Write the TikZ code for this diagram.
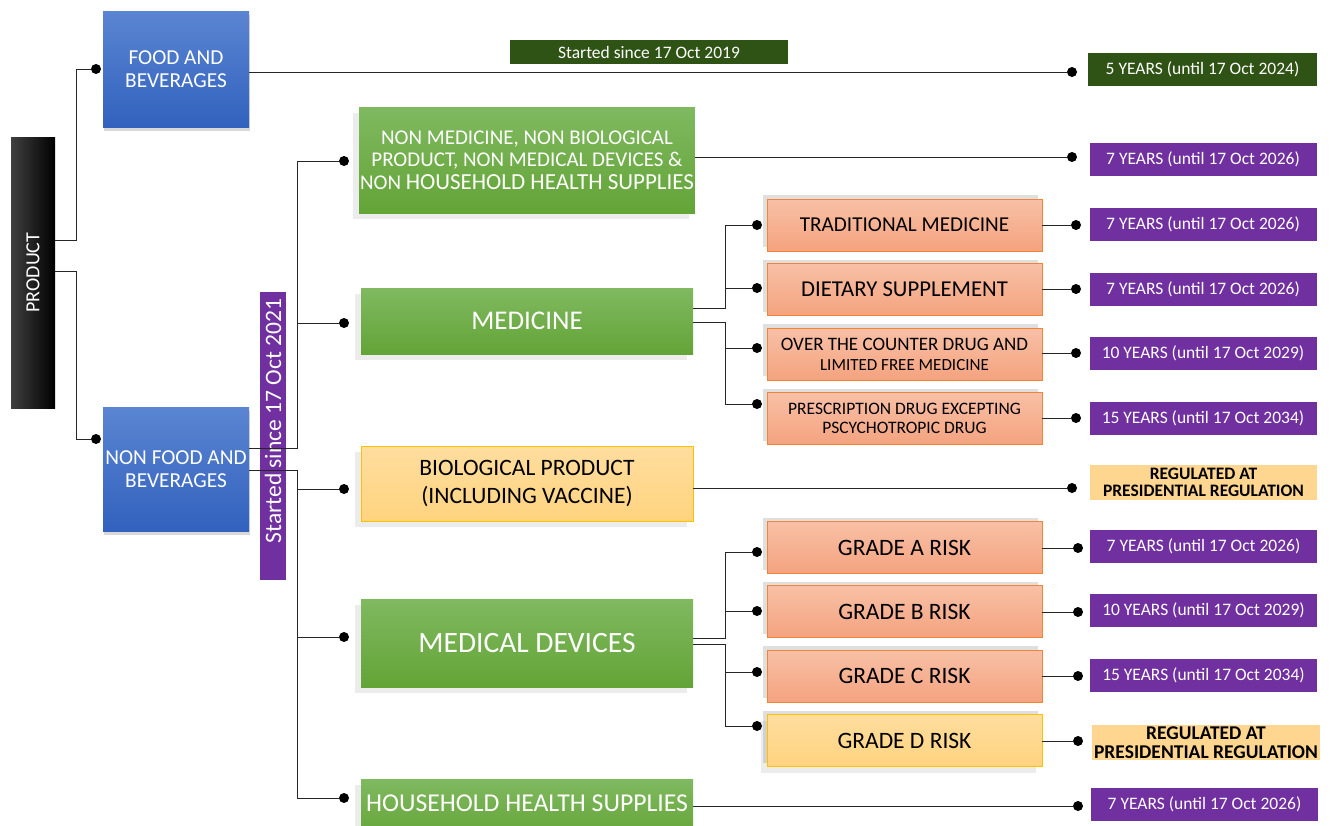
\documentclass[tikz,border=0pt]{standalone}
\usepackage{fontspec}
\setmainfont{Carlito}
\usetikzlibrary{shadows}
\definecolor{blueA}{HTML}{5B85D2}
\definecolor{blueB}{HTML}{3262BE}
\definecolor{greenA}{HTML}{80B960}
\definecolor{greenB}{HTML}{63A437}
\definecolor{orangeA}{HTML}{F8C0A6}
\definecolor{orangeB}{HTML}{F4A37F}
\definecolor{orangeline}{HTML}{F38336}
\definecolor{yellowA}{HTML}{FFDD9E}
\definecolor{yellowB}{HTML}{FFD480}
\definecolor{yellowline}{HTML}{FFC000}
\definecolor{purp}{HTML}{7030A0}
\definecolor{darkgreen}{HTML}{2F5315}
\definecolor{paleyellow}{HTML}{FFD690}
\newcommand{\fsz}[2]{\fontsize{#1}{#2}\selectfont}

\begin{document}
\begin{tikzpicture}[x=1pt,y=-1pt,
  dot/.style={circle,fill=black,inner sep=0pt,minimum size=10pt},
  conn/.style={line width=1pt,black!85},
  prodbox/.style={rectangle,left color=black!75,right color=black,text=white,rotate=90,minimum width=271,minimum height=44,font=\fsz{20}{22}},
  bluebox/.style={rectangle,top color=blueA,bottom color=blueB,text=white,align=center,inner sep=1pt,minimum width=146,font=\fsz{21.3}{23},drop shadow={opacity=0.3,shadow xshift=1pt,shadow yshift=-4pt}},
  greenbox/.style={rectangle,top color=greenA,bottom color=greenB,text=white,align=center,inner sep=1pt,minimum width=332,drop shadow={opacity=0.15,shadow xshift=-6pt,shadow yshift=-6pt}},
  yellowbox/.style={rectangle,top color=yellowA,bottom color=yellowB,draw=yellowline,line width=0.8pt,align=center,inner sep=1pt,drop shadow={opacity=0.15,shadow xshift=-6pt,shadow yshift=-6pt}},
  orangebox/.style={rectangle,top color=orangeA,bottom color=orangeB,draw=orangeline,line width=0.8pt,align=center,inner sep=1pt,minimum width=275,minimum height=52,drop shadow={opacity=0.25,shadow xshift=-4pt,shadow yshift=4pt}},
  yearlabel/.style={rectangle,fill=purp,text=white,minimum width=227,minimum height=33,font=\fsz{17.5}{19}},
  reglabel/.style={rectangle,fill=paleyellow,align=center,inner sep=1pt,minimum width=227,minimum height=35}
]
\clip (0,0) rectangle (1330,825);

% main boxes
\node[prodbox] (prod) at (33,272.5) {PRODUCT};
\node[bluebox,minimum height=116] (food) at (176,69) {FOOD AND\\BEVERAGES};
\node[bluebox,minimum height=124] (nonfood) at (176,469) {NON FOOD AND\\BEVERAGES};
\node[rectangle,fill=darkgreen,text=white,minimum width=278,minimum height=24,font=\fsz{17.5}{19}] (start19) at (649,52) {Started since 17 Oct 2019};
\node[rectangle,fill=purp,text=white,rotate=90,minimum width=288,minimum height=26,inner sep=0pt,font=\fsz{23.5}{24}] (start21) at (273,436) {\hspace*{30pt}Started since 17 Oct 2021};

\node[greenbox,minimum height=106,font=\fsz{21}{22.5}] (nonmed) at (527,160) {NON MEDICINE, NON BIOLOGICAL\\PRODUCT, NON MEDICAL DEVICES \&\\NON {\fsz{23}{22.5}HOUSEHOLD HEALTH SUPPLIES}};
\node[greenbox,minimum height=66,font=\fsz{27}{30}] (medicine) at (527,321) {MEDICINE};
\node[yellowbox,minimum width=332,minimum height=75,font=\fsz{23.5}{28}] (bio) at (527,483.5) {BIOLOGICAL PRODUCT\\(INCLUDING VACCINE)};
\node[greenbox,minimum height=88,font=\fsz{29.5}{32}] (meddev) at (527,643) {MEDICAL DEVICES};
\node[greenbox,minimum height=60,font=\fsz{25.7}{28},text depth=12pt] (household) at (527,809) {HOUSEHOLD HEALTH SUPPLIES};

\node[orangebox,font=\fsz{21.2}{22}] (trad) at (904.5,225) {TRADITIONAL MEDICINE};
\node[orangebox,font=\fsz{22.7}{25}] (diet) at (904.5,289.5) {DIETARY SUPPLEMENT};
\node[orangebox,font=\fsz{19}{20}] (otc) at (904.5,354) {OVER THE COUNTER DRUG AND\\{\fsz{17}{20}LIMITED FREE MEDICINE}};
\node[orangebox,font=\fsz{17.5}{19.5}] (presc) at (904.5,418.5) {PRESCRIPTION DRUG EXCEPTING\\PSCYCHOTROPIC DRUG};
\node[orangebox,font=\fsz{23.5}{24}] (gra) at (904.5,547.5) {GRADE A RISK};
\node[orangebox,font=\fsz{23.5}{24}] (grb) at (904.5,611.5) {GRADE B RISK};
\node[orangebox,font=\fsz{23.5}{24}] (grc) at (904.5,676) {GRADE C RISK};
\node[yellowbox,minimum width=275,minimum height=52,font=\fsz{23.5}{24},drop shadow={opacity=0.25,shadow xshift=-4pt,shadow yshift=4pt}] (grd) at (904.5,740.5) {GRADE D RISK};

% labels on the right
\node[rectangle,fill=darkgreen,text=white,minimum width=229,minimum height=33,font=\fsz{17.5}{19}] (lfood) at (1202.5,69.5) {5 YEARS (until 17 Oct 2024)};
\node[yearlabel] (lnonmed) at (1203,159.5) {7 YEARS (until 17 Oct 2026)};
\node[yearlabel] (ltrad) at (1203,224.5) {7 YEARS (until 17 Oct 2026)};
\node[yearlabel] (ldiet) at (1203,289) {7 YEARS (until 17 Oct 2026)};
\node[yearlabel] (lotc) at (1203,353.5) {10 YEARS (until 17 Oct 2029)};
\node[yearlabel] (lpresc) at (1203,418.5) {15 YEARS (until 17 Oct 2034)};
\node[reglabel,font=\bfseries\fsz{17.5}{17}] (lbio) at (1203.5,482.5) {REGULATED AT\\PRESIDENTIAL REGULATION};
\node[yearlabel] (lgra) at (1203.5,546.5) {7 YEARS (until 17 Oct 2026)};
\node[yearlabel] (lgrb) at (1203.5,610.5) {10 YEARS (until 17 Oct 2029)};
\node[yearlabel] (lgrc) at (1203.5,675) {15 YEARS (until 17 Oct 2034)};
\node[reglabel,minimum width=228,inner sep=0pt,font=\bfseries\fsz{19.5}{19}] (lgrd) at (1206,742.5) {REGULATED AT\\PRESIDENTIAL REGULATION};
\node[yearlabel] (lhouse) at (1204.5,804) {7 YEARS (until 17 Oct 2026)};

% dots
\node[dot] (dprodf) at (96,69) {};
\node[dot] (dprodn) at (96,439) {};
\node[dot] (dnonmed) at (344,161) {};
\node[dot] (dmed) at (344,323) {};
\node[dot] (dbio) at (344,489) {};
\node[dot] (dmeddev) at (344,637) {};
\node[dot] (dhouse) at (344,798) {};
\node[dot] (dtrad) at (757,225) {};
\node[dot] (ddiet) at (757,288) {};
\node[dot] (dotc) at (757,348) {};
\node[dot] (dpresc) at (757,404) {};
\node[dot] (dgra) at (757,552) {};
\node[dot] (dgrb) at (757,611) {};
\node[dot] (dgrc) at (757,672) {};
\node[dot] (dgrd) at (757,726) {};
\node[dot] (rfood) at (1072,72) {};
\node[dot] (rnonmed) at (1072,157) {};
\node[dot] (rtrad) at (1076,225) {};
\node[dot] (rdiet) at (1076,289) {};
\node[dot] (rotc) at (1076,353) {};
\node[dot] (rpresc) at (1076,418) {};
\node[dot] (rbio) at (1072,488) {};
\node[dot] (rgra) at (1078,548) {};
\node[dot] (rgrb) at (1078,612) {};
\node[dot] (rgrc) at (1078,676) {};
\node[dot] (rgrd) at (1078,741) {};
\node[dot] (rhouse) at (1078,806) {};

\coordinate (ptop) at (76,69);
\coordinate (pbot) at (76,439);
\coordinate (ttop) at (297,161);
\coordinate (tbot) at (297,798);
\coordinate (mtop) at (725,225);
\coordinate (mbot) at (725,404);
\coordinate (gtop) at (725,552);
\coordinate (gbot) at (725,726);

% tree
\draw[conn] ([yshift=32.5]prod.south) -| (ptop) -- (dprodf);
\draw[conn] ([yshift=1.5]prod.south) -| (pbot) -- (dprodn);

\draw[conn] ([yshift=21]nonfood.east) -| (ttop) -- (dnonmed);
\draw[conn] ([yshift=-1]nonfood.east) -| (tbot) -- (dhouse);
\draw[conn] (ttop |- dmed) -- (dmed);
\draw[conn] (ttop |- dbio) -- (dbio);
\draw[conn] (ttop |- dmeddev) -- (dmeddev);

\draw[conn] ([yshift=13]medicine.east) -| (mtop) -- (dtrad);
\draw[conn] ([yshift=-1]medicine.east) -| (mbot) -- (dpresc);
\draw[conn] (mtop |- ddiet) -- (ddiet);
\draw[conn] (mtop |- dotc) -- (dotc);

\draw[conn] ([yshift=5]meddev.east) -| (gtop) -- (dgra);
\draw[conn] ([yshift=-1]meddev.east) -| (gbot) -- (dgrd);
\draw[conn] (gtop |- dgrb) -- (dgrb);
\draw[conn] (gtop |- dgrc) -- (dgrc);

% to the periods
\draw[conn] (food.east |- rfood) -- (rfood);
\draw[conn] (nonmed.east |- rnonmed) -- (rnonmed);
\draw[conn] (trad.east |- rtrad) -- (rtrad);
\draw[conn] (diet.east |- rdiet) -- (rdiet);
\draw[conn] (otc.east |- rotc) -- (rotc);
\draw[conn] (presc.east |- rpresc) -- (rpresc);
\draw[conn] (bio.east |- rbio) -- (rbio);
\draw[conn] (gra.east |- rgra) -- (rgra);
\draw[conn] (grb.east |- rgrb) -- (rgrb);
\draw[conn] (grc.east |- rgrc) -- (rgrc);
\draw[conn] (grd.east |- rgrd) -- (rgrd);
\draw[conn] (household.east |- rhouse) -- (rhouse);
\end{tikzpicture}
\end{document}
